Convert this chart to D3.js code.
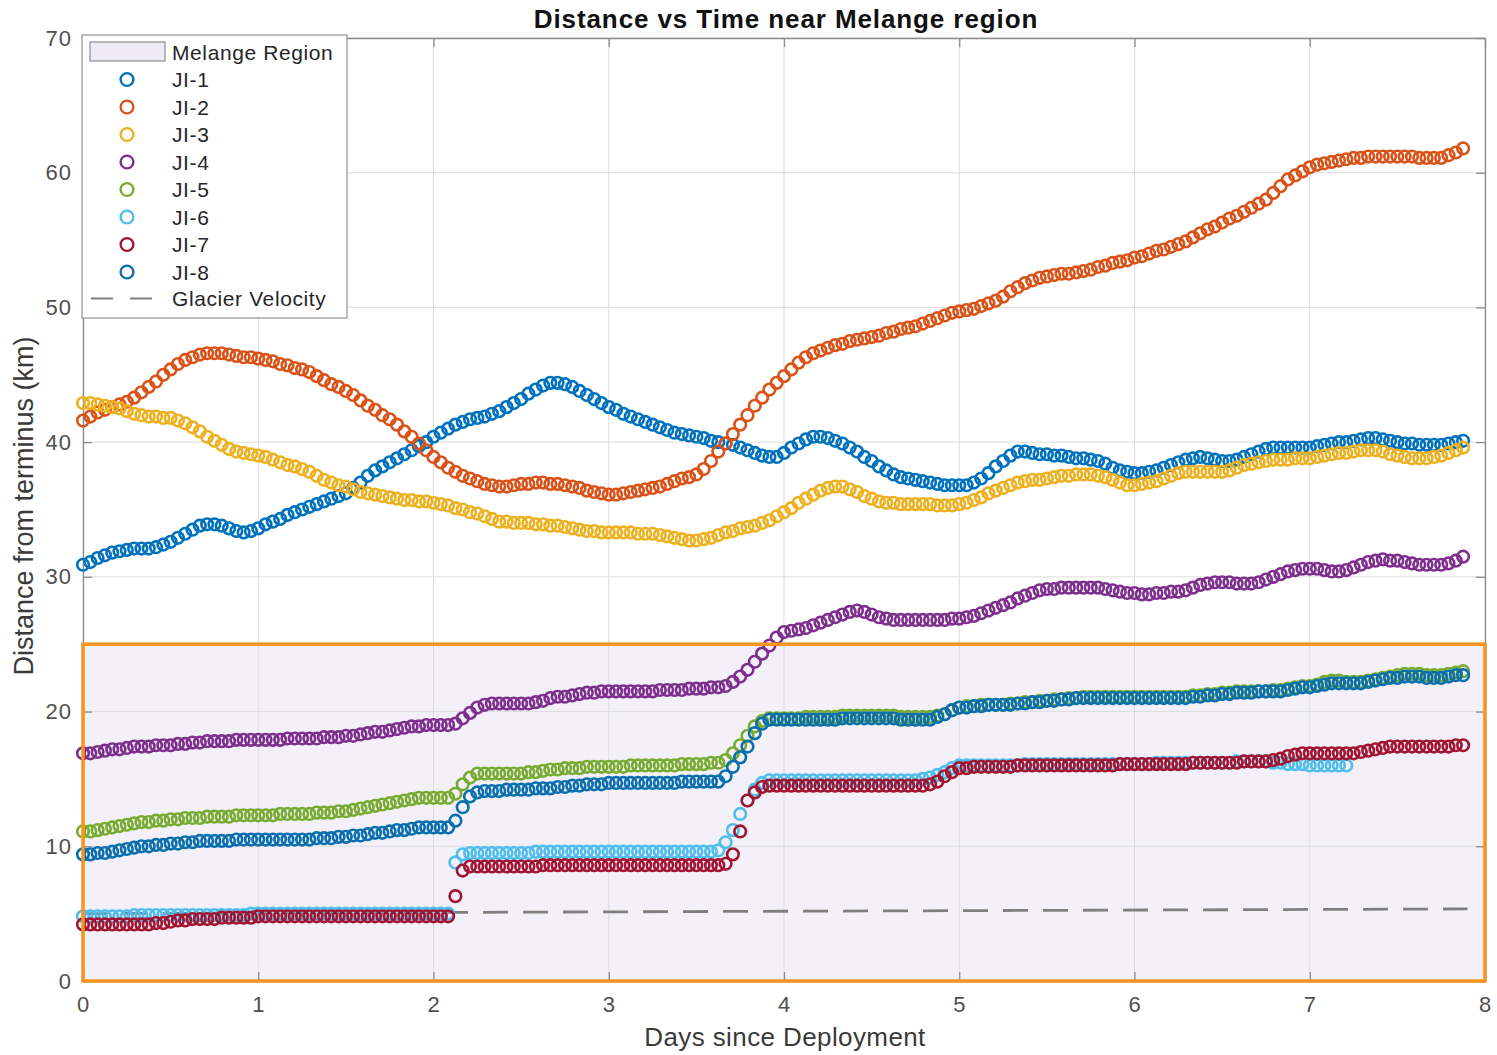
<!DOCTYPE html>
<html>
<head>
<meta charset="utf-8">
<script src="https://cdn.jsdelivr.net/npm/d3@7"></script>
<style>
  html, body { margin: 0; padding: 0; background: #ffffff; }
  svg { display: block; font-family: "Liberation Sans", Arial, Helvetica, sans-serif; }
</style>
</head>
<body>
<svg id="chart" width="1497" height="1055"></svg>
<script>
// ---------------- DATA (hourly samples, km from terminus) ----------------
const title = "Distance vs Time near Melange region";
const xLabel = "Days since Deployment";
const yLabel = "Distance from terminus (km)";
const xTicks = [0, 1, 2, 3, 4, 5, 6, 7, 8];
const yTicks = [0, 10, 20, 30, 40, 50, 60, 70];
const sampleStepDays = 1 / 24;

const seriesNames = ["JI-1", "JI-2", "JI-3", "JI-4", "JI-5", "JI-6", "JI-7", "JI-8"];
const seriesColors = ["#0072BD", "#D95319", "#EDB120", "#7E2F8E", "#77AC30", "#4DBEEE", "#A2142F", "#0A6FAE"];

const ji1 = [
30.9,31.1,31.4,31.6,31.8,31.9, 32.0,32.1,32.1,32.1,32.2,32.4, 32.6,32.9,33.2,33.5,33.8,33.9,
33.9,33.8,33.6,33.4,33.3,33.4, 33.6,33.9,34.1,34.3,34.6,34.8, 35.0,35.2,35.4,35.6,35.8,36.0,
36.2,36.6,37.0,37.5,37.9,38.2, 38.5,38.8,39.1,39.4,39.7,40.0, 40.4,40.7,41.0,41.3,41.5,41.7,
41.8,41.9,42.1,42.3,42.6,42.9, 43.2,43.6,43.9,44.2,44.4,44.4, 44.3,44.1,43.8,43.5,43.2,42.9,
42.6,42.4,42.1,41.9,41.7,41.5, 41.3,41.1,40.9,40.7,40.6,40.5, 40.4,40.3,40.1,40.0,39.9,39.8,
39.6,39.4,39.2,39.0,38.9,38.9, 39.2,39.6,39.9,40.2,40.4,40.4, 40.3,40.1,39.9,39.6,39.3,38.9,
38.6,38.2,37.9,37.6,37.4,37.3, 37.2,37.1,37.0,36.9,36.8,36.8, 36.8,36.8,37.0,37.3,37.7,38.2,
38.6,39.0,39.3,39.3,39.2,39.1, 39.1,39.0,39.0,38.9,38.8,38.8, 38.7,38.6,38.4,38.1,37.9,37.8,
37.7,37.7,37.8,37.9,38.1,38.3, 38.5,38.7,38.8,38.9,38.8,38.7, 38.6,38.6,38.7,38.9,39.1,39.3,
39.5,39.6,39.6,39.6,39.6,39.6, 39.6,39.7,39.8,39.9,40.0,40.0, 40.1,40.2,40.3,40.3,40.2,40.1,
40.0,39.9,39.9,39.8,39.8,39.8, 39.8,39.9,40.0,40.1];

const ji2 = [
41.6,41.9,42.2,42.4,42.6,42.8, 43.0,43.3,43.7,44.1,44.5,45.0, 45.4,45.8,46.1,46.3,46.5,46.6,
46.6,46.6,46.5,46.4,46.3,46.3, 46.2,46.1,46.0,45.8,45.7,45.5, 45.4,45.2,44.9,44.6,44.3,44.1,
43.8,43.5,43.1,42.7,42.4,42.0, 41.7,41.3,40.8,40.4,39.9,39.4, 38.9,38.5,38.1,37.8,37.5,37.3,
37.1,36.9,36.8,36.7,36.7,36.8, 36.9,36.9,37.0,37.0,36.9,36.9, 36.8,36.7,36.6,36.4,36.3,36.2,
36.1,36.1,36.2,36.3,36.4,36.5, 36.6,36.7,36.9,37.1,37.3,37.4, 37.6,38.0,38.6,39.3,39.9,40.6,
41.3,42.0,42.7,43.3,43.9,44.4, 44.9,45.4,45.9,46.3,46.6,46.8, 47.0,47.2,47.3,47.5,47.6,47.7,
47.8,47.9,48.1,48.2,48.4,48.5, 48.6,48.8,49.0,49.2,49.4,49.6, 49.7,49.8,49.9,50.1,50.3,50.5,
50.8,51.2,51.5,51.8,52.0,52.2, 52.3,52.4,52.5,52.5,52.6,52.7, 52.8,53.0,53.1,53.3,53.4,53.5,
53.7,53.8,54.0,54.2,54.3,54.5, 54.7,54.9,55.2,55.5,55.8,56.0, 56.3,56.6,56.8,57.1,57.4,57.7,
58.0,58.5,59.0,59.5,59.8,60.1, 60.4,60.6,60.7,60.8,60.9,61.0, 61.1,61.1,61.2,61.2,61.2,61.2,
61.2,61.2,61.2,61.1,61.1,61.1, 61.1,61.3,61.5,61.8];

const ji3 = [
42.9,42.9,42.8,42.7,42.6,42.5, 42.3,42.1,42.0,41.9,41.9,41.8, 41.8,41.6,41.4,41.1,40.8,40.4,
40.1,39.8,39.5,39.3,39.2,39.1, 39.0,38.9,38.7,38.5,38.3,38.2, 38.0,37.8,37.5,37.2,37.0,36.8,
36.7,36.5,36.3,36.2,36.1,36.0, 35.9,35.8,35.7,35.7,35.6,35.6, 35.5,35.4,35.3,35.1,35.0,34.8,
34.7,34.5,34.3,34.1,34.1,34.0, 34.0,34.0,33.9,33.9,33.8,33.8, 33.7,33.6,33.5,33.4,33.4,33.3,
33.3,33.3,33.3,33.3,33.2,33.2, 33.2,33.1,33.0,32.9,32.8,32.7, 32.7,32.8,32.9,33.1,33.3,33.4,
33.6,33.7,33.8,34.0,34.2,34.5, 34.8,35.1,35.5,35.8,36.1,36.4, 36.6,36.7,36.7,36.5,36.3,36.0,
35.8,35.6,35.5,35.5,35.4,35.4, 35.4,35.4,35.4,35.3,35.3,35.3, 35.4,35.5,35.7,35.9,36.2,36.4,
36.6,36.8,37.0,37.1,37.2,37.2, 37.3,37.4,37.5,37.5,37.6,37.6, 37.6,37.5,37.4,37.2,37.0,36.8,
36.8,36.9,37.0,37.1,37.3,37.5, 37.7,37.8,37.8,37.8,37.8,37.8, 37.8,37.9,38.1,38.3,38.4,38.5,
38.6,38.7,38.7,38.7,38.8,38.8, 38.8,38.9,39.0,39.1,39.2,39.2, 39.3,39.4,39.4,39.4,39.3,39.1,
39.0,38.9,38.8,38.8,38.8,38.9, 39.0,39.2,39.4,39.6];

const ji4 = [
16.9,16.9,17.0,17.1,17.2,17.2, 17.3,17.4,17.4,17.4,17.5,17.5, 17.5,17.6,17.6,17.7,17.7,17.8,
17.8,17.8,17.8,17.9,17.9,17.9, 17.9,17.9,17.9,17.9,18.0,18.0, 18.0,18.0,18.0,18.1,18.1,18.1,
18.2,18.2,18.3,18.4,18.5,18.5, 18.6,18.7,18.8,18.9,18.9,19.0, 19.0,19.0,19.0,19.1,19.5,19.9,
20.3,20.5,20.6,20.6,20.6,20.6, 20.6,20.6,20.7,20.8,21.0,21.1, 21.1,21.2,21.3,21.4,21.4,21.5,
21.5,21.5,21.5,21.5,21.5,21.5, 21.5,21.6,21.6,21.6,21.6,21.7, 21.7,21.7,21.8,21.8,21.9,22.2,
22.6,23.1,23.7,24.3,24.9,25.5, 25.9,26.0,26.1,26.2,26.4,26.6, 26.8,27.0,27.2,27.4,27.5,27.4,
27.2,27.0,26.9,26.8,26.8,26.8, 26.8,26.8,26.8,26.8,26.8,26.9, 26.9,27.0,27.1,27.3,27.5,27.7,
27.9,28.1,28.4,28.6,28.8,29.0, 29.1,29.1,29.2,29.2,29.2,29.2, 29.2,29.2,29.1,29.0,28.9,28.8,
28.8,28.7,28.7,28.8,28.8,28.9, 28.9,29.0,29.2,29.4,29.5,29.6, 29.6,29.6,29.5,29.5,29.5,29.6,
29.8,30.0,30.2,30.4,30.5,30.6, 30.6,30.6,30.5,30.4,30.4,30.5, 30.7,30.9,31.1,31.2,31.3,31.2,
31.2,31.1,31.0,30.9,30.9,30.9, 30.9,31.0,31.2,31.5];

const ji5 = [
11.1,11.1,11.2,11.3,11.4,11.5, 11.6,11.7,11.8,11.8,11.9,11.9, 12.0,12.0,12.1,12.1,12.1,12.2,
12.2,12.2,12.2,12.3,12.3,12.3, 12.3,12.3,12.3,12.4,12.4,12.4, 12.4,12.4,12.5,12.5,12.5,12.6,
12.6,12.7,12.8,12.9,13.0,13.1, 13.2,13.3,13.4,13.5,13.6,13.6, 13.6,13.6,13.6,13.9,14.6,15.1,
15.4,15.4,15.4,15.4,15.4,15.4, 15.4,15.5,15.5,15.6,15.7,15.7, 15.8,15.8,15.8,15.9,15.9,15.9,
15.9,15.9,15.9,16.0,16.0,16.0, 16.0,16.0,16.0,16.0,16.1,16.1, 16.1,16.1,16.2,16.2,16.4,16.9,
17.5,18.2,18.9,19.3,19.5,19.5, 19.5,19.5,19.5,19.6,19.6,19.6, 19.6,19.6,19.7,19.7,19.7,19.7,
19.7,19.7,19.7,19.7,19.6,19.6, 19.6,19.6,19.6,19.7,19.8,20.1, 20.3,20.4,20.4,20.5,20.5,20.5,
20.5,20.6,20.6,20.7,20.7,20.8, 20.8,20.9,20.9,21.0,21.0,21.1, 21.1,21.1,21.1,21.1,21.1,21.1,
21.1,21.1,21.1,21.1,21.1,21.1, 21.1,21.1,21.2,21.2,21.3,21.3, 21.4,21.4,21.5,21.5,21.5,21.5,
21.5,21.6,21.6,21.7,21.8,21.9, 21.9,22.0,22.2,22.3,22.3,22.2, 22.2,22.2,22.3,22.4,22.5,22.6,
22.7,22.8,22.8,22.8,22.7,22.7, 22.7,22.8,22.9,23.0];

const ji6 = [
4.8,4.8,4.8,4.8,4.8,4.8, 4.8,4.9,4.9,4.9,4.9,4.9, 4.9,4.9,4.9,4.9,4.9,4.9,
4.9,4.9,4.9,4.9,4.9,5.0, 5.0,5.0,5.0,5.0,5.0,5.0, 5.0,5.0,5.0,5.0,5.0,5.0,
5.0,5.0,5.0,5.0,5.0,5.0, 5.0,5.0,5.0,5.0,5.0,5.0, 5.0,5.0,5.0,8.8,9.4,9.5,
9.5,9.5,9.5,9.5,9.5,9.5, 9.5,9.5,9.6,9.6,9.6,9.6, 9.6,9.6,9.6,9.6,9.6,9.6,
9.6,9.6,9.6,9.6,9.6,9.6, 9.6,9.6,9.6,9.6,9.6,9.6, 9.6,9.6,9.6,9.7,10.3,11.2,
12.4,13.4,14.2,14.7,14.9,14.9, 14.9,14.9,14.9,14.9,14.9,14.9, 14.9,14.9,14.9,14.9,14.9,14.9,
14.9,14.9,14.9,14.9,14.9,14.9, 14.9,15.0,15.1,15.3,15.5,15.8, 16.0,16.0,16.0,16.0,16.0,16.0,
16.0,16.0,16.0,16.1,16.1,16.1, 16.1,16.1,16.1,16.1,16.1,16.1, 16.1,16.1,16.1,16.1,16.1,16.1,
16.1,16.1,16.1,16.2,16.2,16.2, 16.2,16.2,16.2,16.2,16.2,16.2, 16.2,16.2,16.3,16.3,16.3,16.3,
16.3,16.2,16.2,16.1,16.1,16.1, 16.0,16.0,16.0,16.0,16.0,16.0];

const ji7 = [
4.2,4.2,4.2,4.2,4.2,4.2, 4.2,4.2,4.2,4.2,4.3,4.3, 4.4,4.5,4.5,4.6,4.6,4.6,
4.6,4.7,4.7,4.7,4.7,4.7, 4.8,4.8,4.8,4.8,4.8,4.8, 4.8,4.8,4.8,4.8,4.8,4.8,
4.8,4.8,4.8,4.8,4.8,4.8, 4.8,4.8,4.8,4.8,4.8,4.8, 4.8,4.8,4.8,6.3,8.2,8.5,
8.5,8.5,8.5,8.5,8.5,8.5, 8.5,8.5,8.5,8.6,8.6,8.6, 8.6,8.6,8.6,8.6,8.6,8.6,
8.6,8.6,8.6,8.6,8.6,8.6, 8.6,8.6,8.6,8.6,8.6,8.6, 8.6,8.6,8.6,8.6,8.7,9.4,
11.1,13.4,14.0,14.4,14.5,14.5, 14.5,14.5,14.5,14.5,14.5,14.5, 14.5,14.5,14.5,14.5,14.5,14.5,
14.5,14.5,14.5,14.5,14.5,14.5, 14.5,14.5,14.6,14.8,15.2,15.5, 15.8,15.8,15.9,15.9,15.9,15.9,
15.9,15.9,16.0,16.0,16.0,16.0, 16.0,16.0,16.0,16.0,16.0,16.0, 16.0,16.0,16.0,16.0,16.1,16.1,
16.1,16.1,16.1,16.1,16.1,16.1, 16.1,16.1,16.2,16.2,16.2,16.2, 16.2,16.2,16.2,16.3,16.3,16.3,
16.3,16.4,16.5,16.7,16.8,16.9, 16.9,16.9,16.9,16.9,16.9,16.9, 16.9,17.0,17.1,17.2,17.3,17.4,
17.4,17.4,17.4,17.4,17.4,17.4, 17.4,17.4,17.5,17.5];

const ji8 = [
9.4,9.4,9.5,9.5,9.6,9.7, 9.8,9.9,10.0,10.0,10.1,10.1, 10.2,10.2,10.3,10.3,10.4,10.4,
10.4,10.4,10.4,10.5,10.5,10.5, 10.5,10.5,10.5,10.5,10.5,10.5, 10.5,10.5,10.6,10.6,10.6,10.7,
10.7,10.8,10.8,10.9,11.0,11.0, 11.1,11.2,11.2,11.3,11.4,11.4, 11.4,11.4,11.4,11.9,12.9,13.7,
14.0,14.1,14.1,14.1,14.2,14.2, 14.2,14.2,14.3,14.3,14.3,14.4, 14.4,14.5,14.5,14.6,14.6,14.6,
14.7,14.7,14.7,14.7,14.7,14.7, 14.7,14.7,14.7,14.7,14.8,14.8, 14.8,14.8,14.8,14.8,15.2,15.9,
16.6,17.4,18.4,19.1,19.4,19.4, 19.4,19.4,19.4,19.4,19.4,19.4, 19.4,19.4,19.5,19.5,19.5,19.5,
19.5,19.5,19.5,19.5,19.4,19.4, 19.4,19.4,19.4,19.6,19.8,20.1, 20.3,20.3,20.4,20.4,20.5,20.5,
20.5,20.5,20.6,20.6,20.7,20.7, 20.8,20.8,20.9,20.9,21.0,21.0, 21.0,21.0,21.0,21.0,21.0,21.0,
21.0,21.0,21.0,21.0,21.0,21.0, 21.0,21.0,21.1,21.1,21.2,21.2, 21.3,21.3,21.4,21.4,21.4,21.5,
21.5,21.5,21.5,21.6,21.7,21.8, 21.8,21.9,22.0,22.1,22.1,22.1, 22.1,22.1,22.2,22.3,22.4,22.5,
22.5,22.6,22.6,22.6,22.5,22.5, 22.5,22.6,22.7,22.7];

const seriesValues = [ji1, ji2, ji3, ji4, ji5, ji6, ji7, ji8];

// Glacier velocity reference line (days, km)
const glacierDays = [0, 7.9];
const glacierValues = [5.0, 5.35];

// Melange region extent (km)
const melangeBottom = 0;
const melangeTop = 25;

// ---------------- LAYOUT ----------------
const svg = d3.select("#chart");
const margin = { left: 83, right: 12, top: 38, bottom: 74 };
const W = 1497, H = 1055;
const x = d3.scaleLinear().domain([0, 8]).range([margin.left, W - margin.right]);
const y = d3.scaleLinear().domain([0, 70]).range([H - margin.bottom, margin.top]);

const plotL = x(0), plotR = x(8), plotT = y(70), plotB = y(0);

svg.append("rect").attr("x", plotL).attr("y", plotT)
  .attr("width", plotR - plotL).attr("height", plotB - plotT).attr("fill", "#ffffff");

// melange patch
svg.append("rect")
  .attr("x", x(0)).attr("y", y(melangeTop))
  .attr("width", x(8) - x(0)).attr("height", y(melangeBottom) - y(melangeTop))
  .attr("fill", "#F3F0F9");

// grid
const grid = svg.append("g").attr("stroke", "#DCDCDC").attr("stroke-width", 1);
xTicks.forEach(t => grid.append("line").attr("x1", x(t)).attr("x2", x(t)).attr("y1", plotT).attr("y2", plotB));
yTicks.forEach(t => grid.append("line").attr("x1", plotL).attr("x2", plotR).attr("y1", y(t)).attr("y2", y(t)));

// axes (MATLAB-like box with inward ticks)
const axisColor = "#8C8C8C";
const tickFont = 22;
const xAxisB = d3.axisBottom(x).tickValues(xTicks).tickSizeInner(-9).tickSizeOuter(0).tickPadding(15).tickFormat(d3.format("d"));
const xAxisT = d3.axisTop(x).tickValues(xTicks).tickSizeInner(-9).tickSizeOuter(0).tickFormat("");
const yAxisL = d3.axisLeft(y).tickValues(yTicks).tickSizeInner(-9).tickSizeOuter(0).tickPadding(11).tickFormat(d3.format("d"));
const yAxisR = d3.axisRight(y).tickValues(yTicks).tickSizeInner(-9).tickSizeOuter(0).tickFormat("");

function styleAxis(g) {
  g.select(".domain").attr("stroke", axisColor).attr("stroke-width", 1.3);
  g.selectAll(".tick line").attr("stroke", axisColor).attr("stroke-width", 1.3);
  g.selectAll(".tick text").attr("fill", "#505050").attr("font-size", tickFont)
    .attr("letter-spacing", 1)
    .attr("font-family", "'Liberation Sans', Arial, sans-serif");
}
svg.append("g").attr("transform", `translate(0,${plotB})`).call(xAxisB).call(styleAxis);
svg.append("g").attr("transform", `translate(0,${plotT})`).call(xAxisT).call(styleAxis);
svg.append("g").attr("transform", `translate(${plotL},0)`).call(yAxisL).call(styleAxis);
svg.append("g").attr("transform", `translate(${plotR},0)`).call(yAxisR).call(styleAxis);

// glacier velocity dashed line
const glacierPts = glacierDays.map((d, i) => [d, glacierValues[i]]);
svg.append("path")
  .attr("d", d3.line().x(d => x(d[0])).y(d => y(d[1]))(glacierPts))
  .attr("fill", "none").attr("stroke", "#7F7F7F").attr("stroke-width", 2.8)
  .attr("stroke-dasharray", "25,15");

// series markers
const markerR = 5.8;
seriesValues.forEach((vals, si) => {
  svg.append("g").selectAll("circle").data(vals).join("circle")
    .attr("cx", (v, i) => x(i * sampleStepDays))
    .attr("cy", v => y(v))
    .attr("r", markerR)
    .attr("fill", "none")
    .attr("stroke", seriesColors[si])
    .attr("stroke-width", 2.6);
});

// orange annotation frame around melange region
svg.append("rect")
  .attr("x", x(0)).attr("y", y(melangeTop))
  .attr("width", x(8) - x(0)).attr("height", y(melangeBottom) - y(melangeTop))
  .attr("fill", "none").attr("stroke", "#F7931E").attr("stroke-width", 3.5);

// title & labels
svg.append("text").attr("x", 786).attr("y", 28)
  .attr("text-anchor", "middle").attr("font-size", 26).attr("font-weight", "bold")
  .attr("letter-spacing", 0.9).attr("fill", "#111").text(title);
svg.append("text").attr("x", 785).attr("y", 1046)
  .attr("text-anchor", "middle").attr("font-size", 26).attr("letter-spacing", 0.4)
  .attr("fill", "#3a3a3a").text(xLabel);
svg.append("text").attr("transform", `translate(33,506) rotate(-90)`)
  .attr("text-anchor", "middle").attr("font-size", 27).attr("fill", "#3a3a3a").text(yLabel);

// legend
const lg = svg.append("g");
const lgX = 82, lgY = 35, lgW = 265, lgH = 283;
lg.append("rect").attr("x", lgX).attr("y", lgY).attr("width", lgW).attr("height", lgH)
  .attr("fill", "#ffffff").attr("stroke", "#9A9A9A").attr("stroke-width", 1.3);
const rowH = 27.5, row0 = 52, textX = 172, symX = 127;
const legendFont = 21;
lg.append("rect").attr("x", 90).attr("y", row0 - 10).attr("width", 75).attr("height", 19)
  .attr("fill", "#EEEBF6").attr("stroke", "#8C8C8C").attr("stroke-width", 1.2);
lg.append("text").attr("x", textX).attr("y", row0 + 7.5).attr("font-size", legendFont)
  .attr("letter-spacing", 0.6).attr("fill", "#262626").text("Melange Region");
seriesNames.forEach((name, i) => {
  const cy = row0 + rowH * (i + 1);
  lg.append("circle").attr("cx", symX).attr("cy", cy).attr("r", 6.4)
    .attr("fill", "none").attr("stroke", seriesColors[i]).attr("stroke-width", 2.4);
  lg.append("text").attr("x", textX).attr("y", cy + 7.5).attr("font-size", legendFont)
    .attr("letter-spacing", 0.6).attr("fill", "#262626").text(name);
});
const gvY = row0 + rowH * 9 - 1;
lg.append("line").attr("x1", 91).attr("x2", 160).attr("y1", gvY).attr("y2", gvY)
  .attr("stroke", "#7F7F7F").attr("stroke-width", 2).attr("stroke-dasharray", "22,17");
lg.append("text").attr("x", textX).attr("y", gvY + 7.5).attr("font-size", legendFont)
  .attr("letter-spacing", 0.6).attr("fill", "#262626").text("Glacier Velocity");
</script>
</body>
</html>
